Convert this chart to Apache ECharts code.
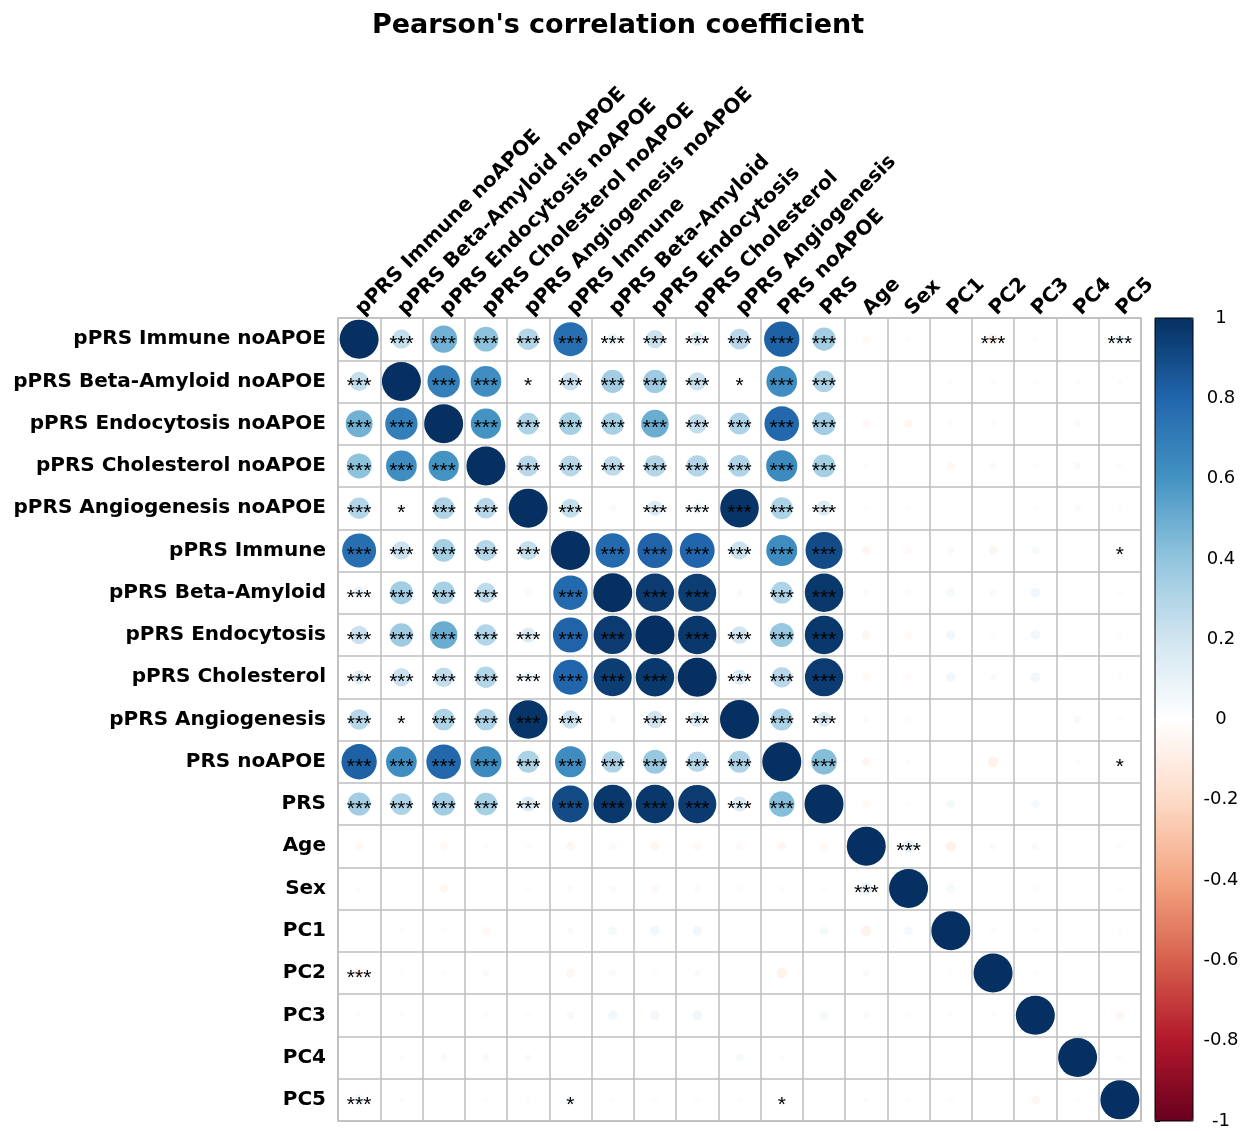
<!DOCTYPE html>
<html>
<head>
<meta charset="utf-8">
<script src="https://cdn.jsdelivr.net/npm/echarts@6/dist/echarts.min.js"></script>
<style>
html,body{margin:0;padding:0;background:#fff;}
#chart{width:1250px;height:1131px;}
</style>
</head>
<body>
<div id="chart"></div>
<script>
// ---- Data ----
const variables = ['pPRS Immune noAPOE','pPRS Beta-Amyloid noAPOE','pPRS Endocytosis noAPOE','pPRS Cholesterol noAPOE','pPRS Angiogenesis noAPOE','pPRS Immune','pPRS Beta-Amyloid','pPRS Endocytosis','pPRS Cholesterol','pPRS Angiogenesis','PRS noAPOE','PRS','Age','Sex','PC1','PC2','PC3','PC4','PC5'];

const rowImmuneNoAPOE      = [1, 0.24, 0.48, 0.41, 0.30, 0.76, 0.09, 0.22, 0.13, 0.28, 0.82, 0.35, -0.04, -0.02, 0.01, -0.07, -0.02, 0.01, 0.07];
const rowBetaAmyloidNoAPOE = [0.24, 1, 0.69, 0.62, 0.04, 0.22, 0.35, 0.36, 0.22, 0.04, 0.62, 0.31, 0.01, 0.01, -0.02, 0.02, 0.02, 0.02, 0.02];
const rowEndocytosisNoAPOE = [0.48, 0.69, 1, 0.60, 0.31, 0.34, 0.33, 0.50, 0.25, 0.31, 0.79, 0.35, -0.04, -0.05, -0.02, 0.02, 0.01, 0.03, 0.01];
const rowCholesterolNoAPOE = [0.41, 0.62, 0.60, 1, 0.28, 0.29, 0.26, 0.30, 0.30, 0.31, 0.64, 0.34, 0.02, 0.01, -0.04, 0.03, 0.02, 0.03, -0.02];
const rowAngiogenesisNoAPOE= [0.30, 0.04, 0.31, 0.28, 1, 0.24, 0.03, 0.15, 0.08, 0.98, 0.32, 0.15, -0.02, -0.02, 0.01, 0.01, 0.02, 0.03, 0.02];
const rowImmune            = [0.76, 0.22, 0.34, 0.29, 0.24, 1, 0.78, 0.81, 0.80, 0.22, 0.63, 0.90, -0.05, -0.03, 0.03, -0.05, 0.04, 0.01, 0.05];
const rowBetaAmyloid       = [0.09, 0.35, 0.33, 0.26, 0.03, 0.78, 1, 0.96, 0.95, 0.03, 0.31, 0.97, -0.03, -0.03, 0.05, 0.03, 0.06, 0.01, 0.02];
const rowEndocytosis       = [0.22, 0.36, 0.50, 0.30, 0.15, 0.81, 0.96, 1, 0.97, 0.20, 0.38, 0.97, -0.05, -0.04, 0.06, 0.02, 0.06, 0.01, 0.02];
const rowCholesterol       = [0.13, 0.22, 0.25, 0.30, 0.08, 0.80, 0.95, 0.97, 1, 0.15, 0.28, 0.96, -0.04, -0.03, 0.06, 0.03, 0.06, 0.01, -0.02];
const rowAngiogenesis      = [0.28, 0.04, 0.31, 0.31, 0.98, 0.22, 0.03, 0.20, 0.15, 1, 0.32, 0.15, -0.03, -0.02, 0.01, 0.01, 0.01, 0.04, 0.02];
const rowPRSnoAPOE         = [0.82, 0.62, 0.79, 0.64, 0.32, 0.63, 0.31, 0.38, 0.28, 0.32, 1, 0.43, -0.05, -0.02, 0.01, -0.07, 0.01, 0.02, 0.03];
const rowPRS               = [0.35, 0.31, 0.35, 0.34, 0.15, 0.90, 0.97, 0.97, 0.96, 0.15, 0.43, 1, -0.04, -0.02, 0.05, 0.01, 0.05, 0.01, 0.01];
const rowAge               = [-0.04, 0.01, -0.04, 0.02, -0.02, -0.05, -0.03, -0.05, -0.04, -0.03, -0.05, -0.04, 1, 0.10, -0.07, 0.03, 0.03, 0.01, 0.02];
const rowSex               = [-0.02, 0.01, -0.05, 0.01, -0.02, -0.03, -0.03, -0.04, -0.03, -0.02, -0.02, -0.02, 0.10, 1, 0.05, 0.01, 0.02, 0.01, 0.02];
const rowPC1               = [0.01, -0.02, -0.02, -0.04, 0.01, 0.03, 0.05, 0.06, 0.06, 0.01, 0.01, 0.05, -0.07, 0.05, 1, 0.02, -0.02, 0.01, -0.02];
const rowPC2               = [-0.07, 0.02, 0.02, 0.03, 0.01, -0.05, 0.03, 0.02, 0.03, 0.01, -0.07, 0.01, 0.03, 0.01, 0.02, 1, 0.02, 0.01, 0.01];
const rowPC3               = [-0.02, 0.02, 0.01, 0.02, 0.02, 0.04, 0.06, 0.06, 0.06, 0.01, 0.01, 0.05, 0.03, 0.02, -0.02, 0.02, 1, 0.01, -0.05];
const rowPC4               = [0.01, 0.02, 0.03, 0.03, 0.03, 0.01, 0.01, 0.01, 0.01, 0.04, 0.02, 0.01, 0.01, 0.01, 0.01, 0.01, 0.01, 1, 0.02];
const rowPC5               = [0.07, 0.02, 0.01, -0.02, 0.02, 0.05, 0.02, 0.02, -0.02, 0.02, 0.03, 0.01, 0.02, 0.02, -0.02, 0.01, -0.05, 0.02, 1];

// Significance: among the 12 PRS variables every off-diagonal pair is '***' except the pairs listed below
const prsBlockSize = 12;
const sigSingle = [[1,4],[1,9],[5,18],[10,18]];      // '*'
const sigNonePRS = [[4,6],[6,9]];                     // no mark
const sigTripleOther = [[0,15],[0,18],[12,13]];       // '***'

const colorbarTicks = [-1, -0.8, -0.6, -0.4, -0.2, 0, 0.2, 0.4, 0.6, 0.8, 1];
const rdbu = ['#67001F','#B2182B','#D6604D','#F4A582','#FDDBC7','#FFFFFF','#D1E5F0','#92C5DE','#4393C3','#2166AC','#053061'];

// ---- Build ----
const rows = [rowImmuneNoAPOE,rowBetaAmyloidNoAPOE,rowEndocytosisNoAPOE,rowCholesterolNoAPOE,rowAngiogenesisNoAPOE,rowImmune,rowBetaAmyloid,rowEndocytosis,rowCholesterol,rowAngiogenesis,rowPRSnoAPOE,rowPRS,rowAge,rowSex,rowPC1,rowPC2,rowPC3,rowPC4,rowPC5];

function sigOf(i, j) {
  if (i === j) return '';
  const has = (list) => list.some(p => (p[0] === i && p[1] === j) || (p[0] === j && p[1] === i));
  if (has(sigSingle)) return '*';
  if (has(sigTripleOther)) return '***';
  if (i < prsBlockSize && j < prsBlockSize) return has(sigNonePRS) ? '' : '***';
  return '';
}

const points = [];
const stars = [];
rows.forEach((row, i) => {
  row.forEach((v, j) => {
    points.push([j, i, v]);
    stars.push(sigOf(i, j));
  });
});

const FONT = 'DejaVu Sans';
const chart = echarts.init(document.getElementById('chart'), null, {renderer: 'canvas'});
chart.setOption({
  animation: false,
  backgroundColor: '#fff',
  title: {
    text: "Pearson's correlation coefficient",
    left: 618, top: 12, padding: 0, textAlign: 'center',
    textStyle: {fontFamily: FONT, fontWeight: 'bold', fontSize: 27, color: '#000'}
  },
  grid: [
    {left: 338, top: 318, width: 803, height: 803, show: true, borderColor: '#bebebe', borderWidth: 1.5, backgroundColor: '#fff', containLabel: false},
    {left: 1155, top: 318, width: 38, height: 803, show: true, borderColor: '#000', borderWidth: 1, backgroundColor: 'transparent', z: 10, containLabel: false}
  ],
  xAxis: [
    {
      type: 'category', data: variables, gridIndex: 0, position: 'top', boundaryGap: true,
      axisLine: {show: false}, axisTick: {show: false},
      axisLabel: {interval: 0, rotate: -45, margin: 6, color: '#000', fontFamily: FONT, fontWeight: 'bold', fontSize: 20},
      splitLine: {show: true, interval: 0, lineStyle: {color: '#bebebe', width: 1.5}}
    },
    {type: 'value', gridIndex: 1, show: false, min: 0, max: 1}
  ],
  yAxis: [
    {
      type: 'category', data: variables, gridIndex: 0, inverse: true, boundaryGap: true,
      axisLine: {show: false}, axisTick: {show: false},
      axisLabel: {interval: 0, margin: 12, color: '#000', fontFamily: FONT, fontWeight: 'bold', fontSize: 20},
      splitLine: {show: true, interval: 0, lineStyle: {color: '#bebebe', width: 1.5}}
    },
    {
      type: 'value', gridIndex: 1, position: 'right', min: colorbarTicks[0], max: colorbarTicks[colorbarTicks.length - 1], interval: 0.2,
      axisLine: {show: false},
      axisTick: {show: true, inside: false, length: 5, lineStyle: {color: '#000', width: 1}},
      axisLabel: {show: true, margin: 28, align: 'center', color: '#000', fontFamily: FONT, fontSize: 18,
        formatter: (v) => String(Math.round(v * 10) / 10)},
      splitLine: {show: false}
    }
  ],
  visualMap: {
    type: 'continuous', min: -1, max: 1, dimension: 2, seriesIndex: 0,
    calculable: false, hoverLink: false, realtime: false,
    orient: 'vertical', left: 1155, top: 318, itemWidth: 38, itemHeight: 803, padding: 0,
    text: null, showLabel: false,
    inRange: {color: rdbu}
  },
  series: [
    {
      type: 'scatter', xAxisIndex: 0, yAxisIndex: 0, data: points,
      symbol: 'circle',
      symbolSize: (d) => 39 * Math.sqrt(Math.abs(d[2])),
      itemStyle: {opacity: 1},
      label: {
        show: true, position: 'inside', offset: [0, 5],
        formatter: (p) => stars[p.dataIndex],
        color: '#000', fontFamily: 'Liberation Sans', fontSize: 21
      },
      emphasis: {disabled: true}
    },
    {type: 'scatter', xAxisIndex: 1, yAxisIndex: 1, data: [], silent: true}
  ]
});
</script>
</body>
</html>
